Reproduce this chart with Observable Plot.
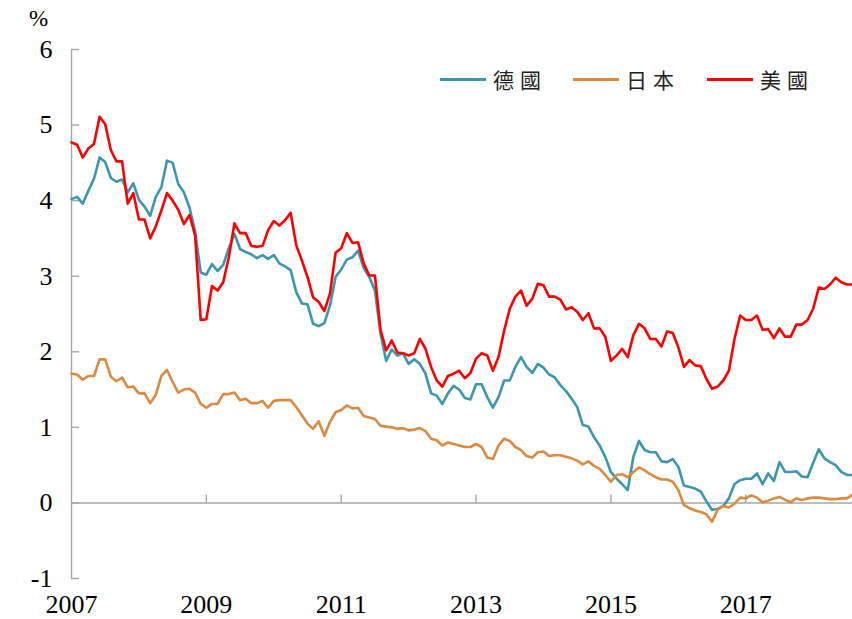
<!DOCTYPE html>
<html>
<head>
<meta charset="utf-8">
<script src="https://cdn.jsdelivr.net/npm/d3@7"></script>
<script src="https://cdn.jsdelivr.net/npm/@observablehq/plot@0.6"></script>
<style>
  body { margin: 0; background: #fff; }
  #wrap { position: relative; width: 852px; height: 619px; overflow: hidden; }
  #unit { position: absolute; left: 29px; top: 7px; font: 23px "Liberation Serif", serif; line-height: 23px; color: #000; }
  .leg { position: absolute; top: 66px; display: flex; align-items: center; height: 26px; }
  .leg .sw { width: 46px; height: 3px; margin-right: 7px; }
  .leg .tx { font: 21px "Noto Sans CJK TC", sans-serif; letter-spacing: 6px; color: #222; line-height: 26px; }
</style>
</head>
<body>
<div id="wrap"></div>
<script>
// Monthly 10-year government bond yields (%), Jan 2007 – Aug 2018
const startYear = 2007;
const seriesNames = ["德國", "日本", "美國"];
const seriesColors = ["#3c97ae", "#db8a3f", "#ff0000"];

const germany = [
  4.02,4.05,3.96,4.13,4.29,4.57,4.51,4.30,4.25,4.28,4.11,4.23,
  4.01,3.92,3.80,4.05,4.18,4.53,4.50,4.22,4.11,3.91,3.59,3.05,
  3.02,3.16,3.07,3.15,3.37,3.56,3.36,3.32,3.29,3.24,3.28,3.23,
  3.28,3.17,3.13,3.08,2.79,2.64,2.63,2.37,2.34,2.38,2.61,2.99,
  3.09,3.22,3.25,3.34,3.11,2.99,2.81,2.24,1.88,2.03,1.95,1.98,
  1.84,1.90,1.84,1.71,1.45,1.42,1.31,1.45,1.55,1.50,1.39,1.37,
  1.57,1.57,1.40,1.26,1.40,1.62,1.62,1.80,1.93,1.80,1.72,1.84,
  1.79,1.70,1.66,1.56,1.48,1.38,1.27,1.03,1.01,0.87,0.76,0.61,
  0.41,0.32,0.25,0.17,0.61,0.82,0.70,0.67,0.67,0.55,0.54,0.58,
  0.48,0.23,0.21,0.19,0.15,0.02,-0.09,-0.08,-0.04,0.06,0.25,0.30,
  0.32,0.32,0.39,0.25,0.39,0.29,0.54,0.41,0.41,0.42,0.35,0.34,
  0.53,0.71,0.59,0.54,0.50,0.41,0.37,0.37
];
const japan = [
  1.71,1.70,1.63,1.68,1.68,1.90,1.90,1.67,1.61,1.66,1.53,1.54,
  1.45,1.45,1.32,1.43,1.68,1.76,1.60,1.46,1.50,1.51,1.46,1.31,
  1.26,1.31,1.31,1.44,1.44,1.46,1.36,1.38,1.32,1.32,1.35,1.26,
  1.35,1.36,1.36,1.36,1.27,1.16,1.05,0.98,1.08,0.89,1.07,1.20,
  1.23,1.29,1.25,1.26,1.15,1.13,1.11,1.02,1.01,1.00,0.98,0.99,
  0.96,0.97,0.99,0.95,0.85,0.83,0.76,0.80,0.78,0.76,0.74,0.74,
  0.78,0.74,0.60,0.58,0.76,0.85,0.82,0.74,0.70,0.62,0.60,0.67,
  0.68,0.62,0.63,0.63,0.61,0.59,0.56,0.51,0.55,0.49,0.45,0.37,
  0.28,0.37,0.38,0.34,0.41,0.47,0.43,0.38,0.34,0.31,0.31,0.28,
  0.17,-0.03,-0.07,-0.10,-0.12,-0.15,-0.25,-0.09,-0.04,-0.06,-0.01,0.07,
  0.06,0.10,0.07,0.01,0.03,0.06,0.08,0.04,0.01,0.06,0.04,0.06,
  0.07,0.07,0.06,0.05,0.05,0.06,0.06,0.11
];
const us = [
  4.77,4.74,4.57,4.69,4.75,5.11,5.01,4.67,4.52,4.52,3.96,4.10,
  3.75,3.75,3.50,3.66,3.87,4.10,4.00,3.88,3.69,3.81,3.54,2.42,
  2.43,2.87,2.81,2.92,3.25,3.70,3.57,3.57,3.40,3.39,3.40,3.61,
  3.73,3.67,3.74,3.84,3.41,3.21,2.99,2.72,2.66,2.54,2.77,3.31,
  3.37,3.57,3.44,3.45,3.17,3.01,3.01,2.29,2.02,2.15,1.99,1.98,
  1.95,1.98,2.17,2.04,1.80,1.62,1.54,1.68,1.71,1.75,1.65,1.72,
  1.91,1.98,1.95,1.75,1.93,2.28,2.57,2.73,2.81,2.61,2.70,2.90,
  2.88,2.73,2.73,2.69,2.56,2.59,2.53,2.42,2.51,2.31,2.31,2.20,
  1.88,1.95,2.04,1.93,2.22,2.37,2.31,2.17,2.17,2.07,2.27,2.25,
  2.06,1.80,1.89,1.82,1.81,1.64,1.51,1.54,1.62,1.75,2.17,2.48,
  2.42,2.42,2.48,2.29,2.30,2.18,2.31,2.20,2.20,2.36,2.36,2.42,
  2.57,2.85,2.83,2.89,2.98,2.92,2.89,2.89
];

const yTicks = [-1, 0, 1, 2, 3, 4, 5, 6];
const xTickLabels = [2007, 2009, 2011, 2013, 2015, 2017];
const xTickMarks = [2009, 2011, 2013, 2015, 2017];

const allSeries = [germany, japan, us];
const rows = [];
allSeries.forEach((vals, s) => {
  vals.forEach((v, i) => rows.push({series: seriesNames[s], t: startYear + i / 12, v}));
});
const xEnd = startYear + (germany.length - 1) / 12;

const axisGray = "#a6a6a6";
const tickLenX = 0.12;   // years (~8px)
const tickLenY = 0.105;  // percent (~8px)

const chart = Plot.plot({
  width: 852,
  height: 619,
  marginLeft: 71,
  marginRight: 0,
  marginTop: 49,
  marginBottom: 41,
  style: {fontFamily: "'Liberation Serif', 'Times New Roman', serif", fontSize: "26px", color: "#000", background: "#fff"},
  x: {type: "linear", domain: [startYear, xEnd], axis: null, label: null},
  y: {domain: [-1, 6], axis: null, label: null},
  color: {domain: seriesNames, range: seriesColors},
  marks: [
    // axis lines
    Plot.ruleX([startYear], {y1: -1, y2: 6, stroke: axisGray, strokeWidth: 1.4}),
    Plot.ruleY([0], {x1: startYear, x2: xEnd, stroke: axisGray, strokeWidth: 1.4}),
    Plot.ruleY(yTicks, {x1: startYear, x2: startYear + tickLenX, stroke: axisGray, strokeWidth: 1.4}),
    Plot.ruleX(xTickMarks, {y1: 0, y2: tickLenY, stroke: axisGray, strokeWidth: 1.4}),
    // tick labels
    Plot.axisY(yTicks, {anchor: "left", label: null, tickSize: 0, tickPadding: 19, tickFormat: d => String(d), fontSize: 26}),
    Plot.axisX(xTickLabels, {anchor: "bottom", label: null, tickSize: 0, tickPadding: 16, tickFormat: d => String(d), fontSize: 26}),
    // series
    Plot.line(rows, {x: "t", y: "v", z: "series", stroke: "series", strokeWidth: 2.6, strokeLinejoin: "round"})
  ]
});

const wrap = document.getElementById("wrap");
wrap.appendChild(chart);

const unit = document.createElement("div");
unit.id = "unit";
unit.textContent = "%";
wrap.appendChild(unit);

const legendLefts = [440, 573, 707];
seriesNames.forEach((name, i) => {
  const item = document.createElement("div");
  item.className = "leg";
  item.style.left = legendLefts[i] + "px";
  const sw = document.createElement("span");
  sw.className = "sw";
  sw.style.background = seriesColors[i];
  const tx = document.createElement("span");
  tx.className = "tx";
  tx.textContent = name;
  item.appendChild(sw);
  item.appendChild(tx);
  wrap.appendChild(item);
});
</script>
</body>
</html>
